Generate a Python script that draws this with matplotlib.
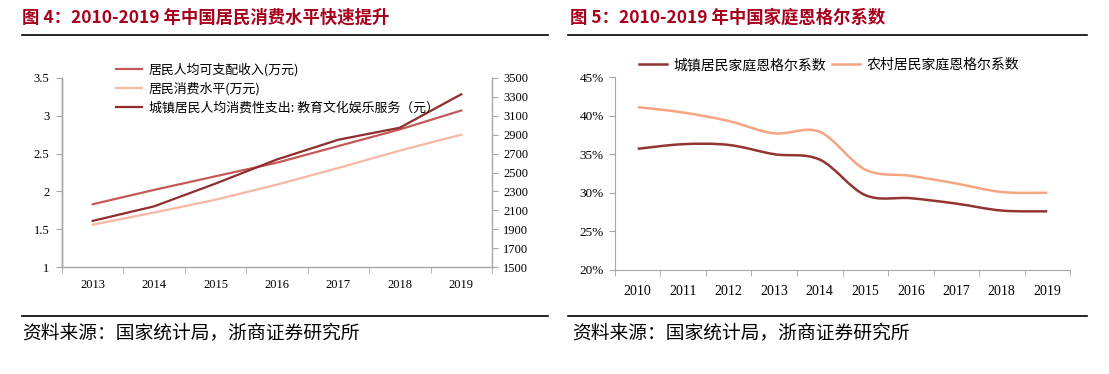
import matplotlib
matplotlib.use("Agg")
import matplotlib.pyplot as plt
from matplotlib.path import Path
from matplotlib.patches import PathPatch
from matplotlib.lines import Line2D
import numpy as np

plt.rcParams['font.family'] = ['Noto Sans CJK SC', 'DejaVu Sans']

# ---------------- data ----------------
years_left = ['2013', '2014', '2015', '2016', '2017', '2018', '2019']
income = [1.83, 2.02, 2.20, 2.38, 2.60, 2.82, 3.07]          # 万元
consumption = [1.56, 1.72, 1.89, 2.09, 2.31, 2.54, 2.75]     # 万元
education = [1988, 2142, 2383, 2638, 2847, 2974, 3328]       # 元
left_labels = ['居民人均可支配收入(万元)', '居民消费水平(万元)',
               '城镇居民人均消费性支出: 教育文化娱乐服务（元）']

years_right = ['2010', '2011', '2012', '2013', '2014', '2015', '2016', '2017', '2018', '2019']
urban_engel = [35.7, 36.3, 36.2, 35.0, 34.3, 29.7, 29.3, 28.6, 27.7, 27.6]
rural_engel = [41.1, 40.4, 39.3, 37.7, 37.9, 33.0, 32.2, 31.2, 30.1, 30.0]
right_labels = ['城镇居民家庭恩格尔系数', '农村居民家庭恩格尔系数']

title_left = '图 4：2010-2019 年中国居民消费水平快速提升'
title_right = '图 5：2010-2019 年中国家庭恩格尔系数'
source = '资料来源：国家统计局，浙商证券研究所'

c_income = '#C45A58'
c_cons = '#F6B8A2'
c_edu = '#8E2D2D'
c_urban = '#933433'
c_rural = '#F4A582'
c_axis = '#A6A6A6'
c_title = '#A8001C'
num_font = 'Liberation Serif'

W, H = 1109, 374
fig = plt.figure(figsize=(W / 100, H / 100), dpi=100)


def fx(px):
    return px / W


def fy(py):
    return 1 - py / H


def smooth_path(xs, ys):
    P = np.column_stack([xs, ys]).astype(float)
    n = len(P)
    verts = [P[0]]
    codes = [Path.MOVETO]
    for i in range(n - 1):
        p0 = P[i - 1] if i > 0 else P[i]
        p1 = P[i]
        p2 = P[i + 1]
        p3 = P[i + 2] if i + 2 < n else P[i + 1]
        c1 = p1 + (p2 - p0) / 6.0
        c2 = p2 - (p3 - p1) / 6.0
        verts += [c1, c2, p2]
        codes += [Path.CURVE4] * 3
    return Path(verts, codes)


# ---------------- decorations ----------------
fig.text(fx(22), fy(18), title_left, fontsize=12.5, fontweight='bold', color=c_title,
         va='center', ha='left')
fig.text(fx(570), fy(18), title_right, fontsize=12.5, fontweight='bold', color=c_title,
         va='center', ha='left')
for x0, x1 in [(22, 548), (568, 1087)]:
    fig.add_artist(Line2D([fx(x0), fx(x1)], [fy(35), fy(35)], color='black', lw=1.2))
    fig.add_artist(Line2D([fx(x0), fx(x1)], [fy(316), fy(316)], color='black', lw=1.2))
fig.text(fx(22), fy(333), source, fontsize=13.5, va='center', ha='left', color='black')
fig.text(fx(572), fy(333), source, fontsize=13.5, va='center', ha='left', color='black')

# ---------------- left chart ----------------
axL = fig.add_axes([fx(62), fy(267), fx(492) - fx(62), fy(78) - fy(267)])
xL = np.arange(len(years_left))
l1, = axL.plot(xL, income, color=c_income, lw=1.6)
l2, = axL.plot(xL, consumption, color=c_cons, lw=1.6)
axL.set_xlim(-0.5, len(years_left) - 0.5)
axL.set_ylim(1, 3.5)
axL.set_yticks([1, 1.5, 2, 2.5, 3, 3.5])
axL.set_yticklabels(['1', '1.5', '2', '2.5', '3', '3.5'])
axL.set_xticks(xL)
axL.set_xticklabels(years_left)
axL.set_xticks(np.arange(-0.5, len(years_left)), minor=True)
axL.tick_params(axis='x', which='major', length=0, pad=9)
axL.tick_params(axis='x', which='minor', length=4, color=c_axis, direction='out')
axL.tick_params(axis='y', length=4, color=c_axis, pad=5)
axL.spines['top'].set_visible(False)
axL.spines['right'].set_visible(False)
for sp in ['left', 'bottom']:
    axL.spines[sp].set_visible(True)
    axL.spines[sp].set_color(c_axis)
    axL.spines[sp].set_linewidth(1.0)
for lab in axL.get_xticklabels() + axL.get_yticklabels():
    lab.set_fontfamily(num_font)
    lab.set_fontsize(9)

axR = axL.twinx()
l3, = axR.plot(xL, education, color=c_edu, lw=1.6)
axR.set_ylim(1500, 3500)
axR.set_yticks(np.arange(1500, 3501, 200))
axR.tick_params(axis='y', length=4, color=c_axis, pad=4)
axR.spines['top'].set_visible(False)
axR.spines['left'].set_visible(False)
axR.spines['bottom'].set_visible(False)
axR.spines['right'].set_color(c_axis)
axR.spines['right'].set_linewidth(1.0)
for lab in axR.get_yticklabels():
    lab.set_fontfamily(num_font)
    lab.set_fontsize(9)
# explicit left spine line so it is not hidden by the twin axes
axR.add_artist(Line2D([0, 0], [0, 1], transform=axR.transAxes, color=c_axis,
                      lw=1.0, clip_on=False))

fig.legend([l1, l2, l3], left_labels, loc='upper left',
           bbox_to_anchor=(fx(116), fy(63)), bbox_transform=fig.transFigure,
           frameon=False, fontsize=9.3, handlelength=2.0, handletextpad=0.55,
           labelspacing=0.45, borderpad=0, borderaxespad=0)

# ---------------- right chart ----------------
ax2 = fig.add_axes([fx(615), fy(270), fx(1070) - fx(615), fy(77) - fy(270)])
xR = np.arange(len(years_right))
ax2.add_patch(PathPatch(smooth_path(xR, urban_engel), fill=False, edgecolor=c_urban, lw=1.8))
ax2.add_patch(PathPatch(smooth_path(xR, rural_engel), fill=False, edgecolor=c_rural, lw=1.8))
ax2.set_xlim(-0.5, len(years_right) - 0.5)
ax2.set_ylim(20, 45)
ax2.set_yticks([20, 25, 30, 35, 40, 45])
ax2.set_yticklabels(['20%', '25%', '30%', '35%', '40%', '45%'])
ax2.set_xticks(xR)
ax2.set_xticklabels(years_right)
ax2.set_xticks(np.arange(-0.5, len(years_right)), minor=True)
ax2.tick_params(axis='x', which='major', length=0, pad=11)
ax2.tick_params(axis='x', which='minor', length=4, color=c_axis)
ax2.tick_params(axis='y', length=4, color=c_axis, pad=4)
for sp in ['top', 'right']:
    ax2.spines[sp].set_visible(False)
for sp in ['left', 'bottom']:
    ax2.spines[sp].set_color(c_axis)
for lab in ax2.get_yticklabels():
    lab.set_fontfamily(num_font)
    lab.set_fontsize(9.5)
for lab in ax2.get_xticklabels():
    lab.set_fontfamily(num_font)
    lab.set_fontsize(10)

h1 = Line2D([], [], color=c_urban, lw=1.8)
h2 = Line2D([], [], color=c_rural, lw=1.8)
fig.legend([h1, h2], right_labels, loc='center left', ncol=2,
           bbox_to_anchor=(fx(639), fy(65)), bbox_transform=fig.transFigure,
           frameon=False, fontsize=10, handlelength=2.0, handletextpad=0.5,
           columnspacing=0.4, borderpad=0, borderaxespad=0)

fig.savefig('out.png', dpi=100)
